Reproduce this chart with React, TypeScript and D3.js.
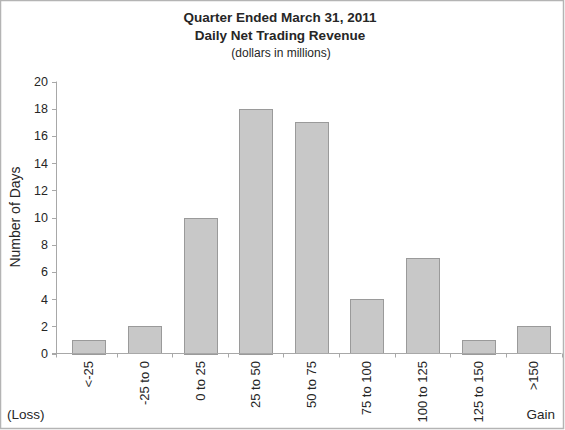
import React from "react";
import * as d3 from "d3";

const categories = ["<-25", "-25 to 0", "0 to 25", "25 to 50", "50 to 75", "75 to 100", "100 to 125", "125 to 150", ">150"];
const days = [1, 2, 10, 18, 17, 4, 7, 1, 2];
const yTicks = [0, 2, 4, 6, 8, 10, 12, 14, 16, 18, 20];
const titleLines = ["Quarter Ended March 31, 2011", "Daily Net Trading Revenue"];
const subtitle = "(dollars in millions)";

const W = 565;
const H = 430;
const axisX = 56;
const x0 = 61;
const x1 = 561.5;
const yTop = 81.5;
const yZero = 353.5;
const font = "'Liberation Sans', Arial, Helvetica, sans-serif";
const textColor = "#262626";
const axisColor = "#a8a8a8";

export default function App() {
  const x = d3.scaleBand<string>().domain(categories).range([x0, x1]).paddingInner(0.41).paddingOuter(0.205);
  const y = d3.scaleLinear().domain([0, 20]).range([yZero, yTop]);
  const step = x.step();
  const boundaries = [axisX, ...categories.slice(1).map((c) => (x(c) as number) - (step - x.bandwidth()) / 2), x1];

  return (
    <svg width={W} height={H} style={{ position: "absolute", left: 0, top: 0, background: "#fff" }} fontFamily={font}>
      <rect x={0.5} y={0.5} width={563} height={428} fill="#fff" stroke="#b4b4b4" strokeWidth={1.5} />
      <text x={280} y={22} textAnchor="middle" fontSize={13.5} fontWeight="bold" fill={textColor}>{titleLines[0]}</text>
      <text x={280} y={40} textAnchor="middle" fontSize={13.5} fontWeight="bold" fill={textColor}>{titleLines[1]}</text>
      <text x={281} y={57} textAnchor="middle" fontSize={12} fill={textColor}>{subtitle}</text>

      {/* y axis */}
      <line x1={axisX + 0.5} x2={axisX + 0.5} y1={yTop} y2={yZero} stroke={axisColor} />
      {yTicks.map((t) => (
        <g key={t}>
          <line x1={axisX - 4} x2={axisX} y1={Math.round(y(t)) + 0.5} y2={Math.round(y(t)) + 0.5} stroke={axisColor} />
          <text x={48} y={y(t) + 4.5} textAnchor="end" fontSize={12.5} fill={textColor}>{t}</text>
        </g>
      ))}
      <text transform={`translate(20,217) rotate(-90)`} textAnchor="middle" fontSize={14} fill={textColor}>Number of Days</text>

      {/* bars */}
      {categories.map((c, i) => (
        <rect key={c} x={Math.round(x(c) as number) + 0.5} y={Math.round(y(days[i])) + 0.5} width={Math.round(x.bandwidth())} height={Math.round(yZero - y(days[i]))} fill="#c8c8c8" stroke="#9a9a9a" />
      ))}

      {/* x axis */}
      <line x1={axisX - 4} x2={x1} y1={yZero} y2={yZero} stroke={axisColor} />
      {boundaries.map((b, i) => (
        <line key={i} x1={Math.round(b) + 0.5} x2={Math.round(b) + 0.5} y1={yZero} y2={yZero + 4} stroke={axisColor} />
      ))}
      {categories.map((c) => (
        <text key={c} transform={`translate(${(x(c) as number) + x.bandwidth() / 2 + 4.5},361) rotate(-90)`} textAnchor="end" fontSize={13} fill={textColor}>{c}</text>
      ))}
      <text x={7} y={419} fontSize={13.5} fill={textColor}>(Loss)</text>
      <text x={555} y={419} textAnchor="end" fontSize={13.5} fill={textColor}>Gain</text>
    </svg>
  );
}
